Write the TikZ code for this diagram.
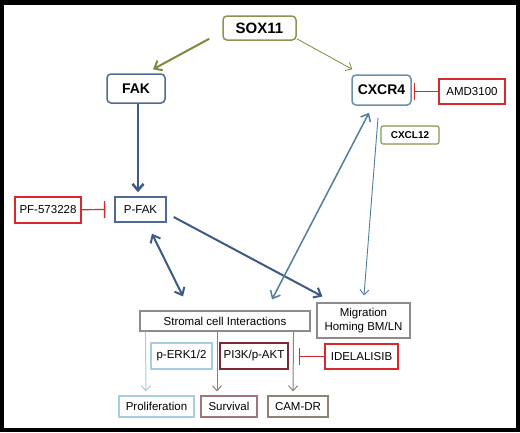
\documentclass[tikz,border=0pt]{standalone}
\usepackage{fontspec}
\setmainfont{Liberation Sans}
\usetikzlibrary{arrows.meta,calc}
\definecolor{olivebox}{RGB}{138,150,80}
\definecolor{oliveline}{RGB}{125,140,60}
\definecolor{fakblue}{RGB}{80,106,148}
\definecolor{darkblue}{RGB}{62,90,135}
\definecolor{steelbox}{RGB}{105,145,172}
\definecolor{steelline}{RGB}{82,126,156}
\definecolor{inhred}{RGB}{212,42,48}
\definecolor{greybox}{RGB}{140,140,140}
\definecolor{lightblue}{RGB}{168,204,224}
\definecolor{maroon}{RGB}{118,44,54}
\definecolor{mauve}{RGB}{160,118,124}
\definecolor{camgrey}{RGB}{140,132,116}
\begin{document}
\begin{tikzpicture}[x=1pt, y=-1pt,
    font=\fontsize{11.5}{14}\selectfont,
    box/.style={draw, line width=1.1pt, inner sep=0pt, align=center},
    hub/.style={box, rounded corners=4pt, line width=1.5pt, font=\fontsize{14}{16}\selectfont\bfseries},
    drug/.style={box, draw=inhred},
    >={Straight Barb[length=5pt, width=9pt]},
    big/.style={>={Straight Barb[length=6.5pt, width=11pt]}},
    inhibit/.style={draw=inhred, line width=1.2pt, -{Bar[width=17pt, line width=1.4pt]}}]
  % frame
  \fill[black] (0,0) rectangle (520,432);
  \fill[white] (4,5) rectangle (516,428);
  \useasboundingbox (0,0) rectangle (520,432);

  % upper part
  \node (sox) [hub, draw=olivebox, minimum width=73pt, minimum height=24pt,
    font=\fontsize{15}{17}\selectfont\bfseries] at (259.5,28) {SOX11};
  \node (fak) [hub, draw=fakblue, minimum width=58pt, minimum height=29pt] at (136,88.5) {FAK};
  \node (cx) [hub, draw=steelbox, minimum width=59pt, minimum height=30pt] at (381.5,90) {CXCR4};
  \node (amd) [drug, minimum width=66pt, minimum height=25pt] at (472,91.5) {AMD3100};
  \node (cxcl) [box, draw=olivebox, rounded corners=2pt, minimum width=58pt, minimum height=18pt,
    font=\fontsize{10}{12}\selectfont\bfseries] at (410,135) {CXCL12};
  \node (pfak) [box, draw=fakblue, line width=1.4pt, minimum width=51pt, minimum height=25pt] at (140.5,209.5) {P-FAK};
  \node (pf) [drug, minimum width=66pt, minimum height=26pt] at (48,210) {PF-573228};

  % lower part
  \node (strom) [box, draw=greybox, minimum width=170pt, minimum height=20pt] at (225,321) {Stromal cell Interactions};
  \node (mig) [box, draw=greybox, minimum width=93pt, minimum height=35pt] at (363.5,320.5) {Migration\\Homing BM/LN};
  \node (erk) [box, draw=lightblue, line width=1.4pt, minimum width=61pt, minimum height=26pt] at (181.5,356) {p-ERK1/2};
  \node (pi3k) [box, draw=maroon, line width=1.8pt, minimum width=68pt, minimum height=26pt] at (254,356) {PI3K/p-AKT};
  \node (ide) [drug, minimum width=73pt, minimum height=25pt] at (361.5,356.5) {IDELALISIB};
  \node (prol) [box, draw=lightblue, minimum width=75pt, minimum height=21pt] at (156.5,406.5) {Proliferation};
  \node (surv) [box, draw=mauve, minimum width=56pt, minimum height=21pt] at (229,406.5) {Survival};
  \node (cam) [box, draw=camgrey, minimum width=60pt, minimum height=21pt] at (298,406.5) {CAM-DR};

  % connectors
  \draw[oliveline, line width=2pt, big, ->] ($(sox.south west)+(-13,-2)$) -- ($(fak.north)+(17,-4)$);
  \draw[oliveline, line width=0.8pt, ->] ($(sox.south east)+(0,-2)$) -- ($(cx.north west)+(1,-5)$);
  \draw[darkblue, line width=2.5pt, big, ->] ($(fak.south)+(2,0)$) -- ($(pfak.north)+(-2.5,-4)$);
  \draw[darkblue, line width=2pt, big, <->] ($(pfak.south)+(11.5,11)$) -- ($(strom.north)+(-42,-14)$);
  \draw[darkblue, line width=2pt, big, ->] ($(pfak.east)+(7,7.5)$) -- ($(mig.north west)+(6,-6)$);
  \draw[steelline, line width=1.5pt, big, <->] ($(strom.north)+(47,-11)$) -- ($(cx.south)+(-12.5,7)$);
  \draw[steelline, line width=0.9pt, ->] ($(cx.south)+(-3.5,12)$) -- ($(mig.north)+(0.5,-7)$);
  \draw[lightblue, line width=1pt, ->] ($(strom.south west)+(6,0)$) -- ($(prol.north)+(-10.5,-4)$);
  \draw[mauve, line width=1pt, ->] ($(strom.south)+(-8,0)$) -- ($(surv.north)+(-12,-4)$);
  \draw[camgrey, line width=1pt, ->] ($(strom.south east)+(-17,0)$) -- ($(cam.north)+(-5,-4)$);

  % inhibitions
  \draw[inhibit] (pf) -- ($(pfak.west)+(-9,0)$);
  \draw[inhibit] (amd) -- ($(cx.east)+(2,1.5)$);
  \draw[inhibit] (ide) -- ($(pi3k.east)+(10,0.5)$);
\end{tikzpicture}
\end{document}
